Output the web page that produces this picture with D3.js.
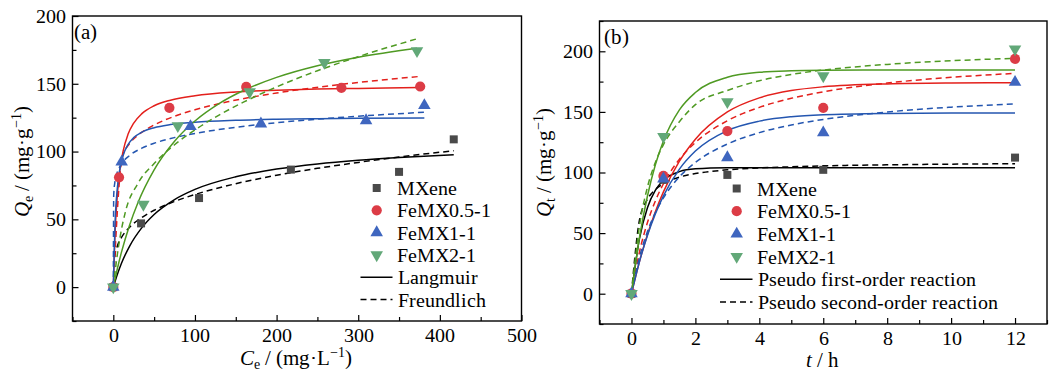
<!DOCTYPE html>
<html><head><meta charset="utf-8">
<script src="https://cdn.jsdelivr.net/npm/d3@7"></script>
<style>
@font-face{font-family:"RefSerif";font-style:normal;font-weight:400;
  src:local("Liberation Serif"),local("LiberationSerif"),local("LiberationSerif-Regular"),local("Liberation Serif Regular"),local("Tinos"),local("Times New Roman"),local("DejaVu Serif");}
@font-face{font-family:"RefSerif";font-style:italic;font-weight:400;
  src:local("Liberation Serif Italic"),local("LiberationSerif-Italic"),local("Tinos Italic"),local("Times New Roman Italic"),local("DejaVu Serif Italic");}
html,body{margin:0;padding:0;background:#fff;}
svg{display:block;}
svg text{font-family:"RefSerif","Liberation Serif","DejaVu Serif",serif;}
</style></head>
<body><svg id="c" width="1049" height="372"></svg>
<script>
// ---------- DATA ----------
const seriesNames = ["MXene","FeMX0.5-1","FeMX1-1","FeMX2-1"];
// (a) isotherm measured points
const isoMXeneC = [0, 34, 105, 217.5, 350, 417];
const isoMXeneQ = [0, 47, 65.7, 86.7, 85, 109];
const isoFe05C = [0, 7, 68.7, 162.8, 279.4, 375.9];
const isoFe05Q = [0, 81, 132.3, 147.7, 147, 148];
const isoFe1C = [0, 10.2, 94.5, 180.8, 309.6, 381];
const isoFe1Q = [0, 92.3, 118.5, 120.5, 122.9, 134];
const isoFe2C = [0, 36.8, 79, 167, 258.5, 372];
const isoFe2Q = [0, 61, 119, 144, 165.7, 174.3];
// (a) Langmuir fitted curves
const langMXeneC = [0,5,10,20,35,50,75,100,150,200,250,300,350,417];
const langMXeneQ = [0,9.5,17.6,30.3,43.9,53.6,64.6,72.1,81.4,87.1,90.9,93.6,95.6,97.7];
const langFe05C = [0,2,5,8,12,18,25,35,50,70,100,150,200,250,300,375];
const langFe05Q = [0,37.9,68.7,86.2,100.3,112.7,121,128,133.8,137.9,141.2,143.9,145.2,146.1,146.6,147.2];
const langFe1C = [0,2,5,8,12,18,25,35,50,70,100,150,200,250,300,381];
const langFe1Q = [0,45.2,73.5,87.1,97.1,105.1,110.3,114.3,117.6,119.9,121.7,123.1,123.8,124.2,124.5,124.8];
const langFe2C = [0,5,10,20,30,50,75,100,130,160,200,250,300,372];
const langFe2Q = [0,13.7,25.8,45.9,62.1,86.5,107.6,122.5,135.5,145.2,154.7,163.3,169.6,176.2];
// (a) Freundlich fitted curves
const freuMXeneC = [0,2,5,10,20,35,50,75,100,150,200,250,300,350,417];
const freuMXeneQ = [0,23.7,30.4,36.6,44.2,51.4,56.7,63.2,68.3,76.3,82.5,87.6,92,96,100.6];
const freuFe05C = [0,11,20,30,50,72,100,140,200,280,375];
const freuFe05Q = [0,96,106,112,119.6,125.4,130.8,136.7,143.2,149.6,155.4];
const freuFe1C = [0,0.5,2,5,10,20,35,50,75,100,150,200,250,300,381];
const freuFe1Q = [0,68.1,77.8,85,90.9,97.1,102.5,106.1,110.3,113.4,117.9,121.3,123.9,126.1,129];
const freuFe2C = [0,4,8,15,30,50,75,100,130,160,200,250,300,372];
const freuFe2Q = [0,20,36,56,76.4,91.2,105,116,127.1,136.6,147.7,159.6,170,183.2];
// (b) kinetics measured points
const kinT = [0,1,3,6,12];
const kinMXeneQ = [0,94,98,102.2,112.3];
const kinFe05Q = [0,97.2,134.2,153.4,193.7];
const kinFe1Q = [0,94.8,112.3,132.8,174.5];
const kinFe2Q = [0,129.6,158.3,179.7,201.9];
// (b) fitted curves
const fitT = [0,0.25,0.5,0.75,1,1.5,2,3,4,5,6,8,10,12];
const pfoMXeneQ = [0,45.4,71,85.5,93.6,100.7,103,103.9,104,104,104,104,104,104];
const pfoFe05Q = [0,26.5,48.9,67.9,84,109.3,127.5,150,161.6,167.6,170.7,173.1,173.8,174];
const pfoFe1Q = [0,26.4,48.1,66,80.7,102.8,117.7,134.6,142.4,146,147.6,148.7,149,149];
const pfoFe2Q = [0,46.2,80.6,106.6,126,151.7,166,178.6,182.7,183.9,184.3,184.5,184.5,184.5];
const psoMXeneQ = [0,60.6,77.9,86,90.8,96.2,99.1,102.2,103.8,104.7,105.5,106.3,106.9,107.2];
const psoFe05Q = [0,34.4,58.7,76.7,90.7,110.9,124.8,142.7,153.7,161.2,166.6,173.8,178.5,181.8];
const psoFe1Q = [0,30.1,51.3,67,79,96.4,108.3,123.5,132.9,139.2,143.8,149.9,153.9,156.6];
const psoFe2Q = [0,55.9,87.9,108.5,123,141.9,156,167.7,175.7,180.9,184.5,189.2,192.2,194.2];
// ticks
const aXTicks = [0,100,200,300,400,500];
const aXMinor = [-50,50,150,250,350,450];
const aYTicks = [0,50,100,150,200];
const aYMinor = [-25,25,75,125,175];
const bXTicks = [0,2,4,6,8,10,12];
const bXMinor = [-1,1,3,5,7,9,11,13];
const bYTicks = [0,50,100,150,200];
const bYMinor = [-25,25,75,125,175,225];

// ---------- STYLE ----------
const markerColors = ["#4a4a4a","#dc3c46","#3f66bf","#62a878"];
const lineColors = ["#000000","#e3201c","#2456b0","#4f9a23"];
const shapes = ["square","circle","tri","itri"];
const FL = 20;      // legend
const FS = 20.5;    // titles
const FT = 20;      // tick labels
const FSUB = 14;
const FONT = '"RefSerif","Liberation Serif","DejaVu Serif",serif';

const svg = d3.select("#c").attr("font-family", FONT);

function markerPath(shape){
  if(shape==="square") return d3.symbol(d3.symbolSquare, 64)();
  if(shape==="circle") return d3.symbol(d3.symbolCircle, 82)();
  return d3.symbol(d3.symbolTriangle, 68)();
}
function drawMarker(g, shape, x, y, color){
  g.append("path").attr("d", markerPath(shape))
    .attr("transform", `translate(${x},${y})` + (shape==="itri" ? " rotate(180)" : ""))
    .attr("fill", color);
}

function panel(opt){
  const {x0,x1,y0,y1,xd,yd} = opt;
  const x = d3.scaleLinear().domain(xd).range([x0,x1]);
  const y = d3.scaleLinear().domain(yd).range([y1,y0]);
  const g = svg.append("g");
  const cid = "clip"+opt.id;
  svg.append("clipPath").attr("id",cid).append("rect").attr("x",x0).attr("y",y0).attr("width",x1-x0).attr("height",y1-y0);
  const axB = d3.axisBottom(x).tickValues(opt.xt).tickSize(-6).tickPadding(6.5).tickFormat(d3.format("d"));
  const axBm = d3.axisBottom(x).tickValues(opt.xm).tickSize(-4).tickFormat("");
  const axL = d3.axisLeft(y).tickValues(opt.yt).tickSize(-6).tickPadding(7).tickFormat(d3.format("d"));
  const axLm = d3.axisLeft(y).tickValues(opt.ym).tickSize(-4).tickFormat("");
  [ [axB, `translate(0,${y1})`], [axBm, `translate(0,${y1})`], [axL, `translate(${x0},0)`], [axLm, `translate(${x0},0)`] ]
  .forEach(([ax,tr])=>{
    const a = g.append("g").attr("transform",tr).call(ax).attr("font-family", FONT).attr("font-size", FT);
    a.select(".domain").remove();
    a.selectAll("line").attr("stroke","#000").attr("stroke-width",1.2);
    a.selectAll("text").attr("font-family",FONT).attr("font-size",FT).attr("fill","#000");
  });
  g.append("rect").attr("x",x0).attr("y",y0).attr("width",x1-x0).attr("height",y1-y0)
    .attr("fill","none").attr("stroke","#000").attr("stroke-width",1.4);
  const cg = g.append("g").attr("clip-path",`url(#${cid})`);
  const line = d3.line().x(d=>x(d[0])).y(d=>y(d[1])).curve(d3.curveMonotoneX);
  opt.curves.forEach(c=>{
    cg.append("path").attr("d", line(c.xs.map((v,i)=>[v,c.ys[i]])))
      .attr("fill","none").attr("stroke",lineColors[c.s]).attr("stroke-width",1.5)
      .attr("stroke-dasharray", c.dash ? "6,4" : null);
  });
  const mg = g.append("g");
  opt.points.forEach(p=>{
    p.xs.forEach((v,i)=>drawMarker(mg, shapes[p.s], x(v), y(p.ys[i]), markerColors[p.s]));
  });
  return {x,y,g};
}

// ---------- PANEL A ----------
panel({id:"a", x0:72.5, x1:521.5, y0:16, y1:321, xd:[-50,500], yd:[-25,200],
  xt:aXTicks, xm:aXMinor, yt:aYTicks, ym:aYMinor,
  curves:[
    {s:0,xs:langMXeneC,ys:langMXeneQ},{s:0,xs:freuMXeneC,ys:freuMXeneQ,dash:true},
    {s:1,xs:langFe05C,ys:langFe05Q},{s:1,xs:freuFe05C,ys:freuFe05Q,dash:true},
    {s:2,xs:langFe1C,ys:langFe1Q},{s:2,xs:freuFe1C,ys:freuFe1Q,dash:true},
    {s:3,xs:langFe2C,ys:langFe2Q},{s:3,xs:freuFe2C,ys:freuFe2Q,dash:true}
  ],
  points:[
    {s:0,xs:isoMXeneC,ys:isoMXeneQ},{s:1,xs:isoFe05C,ys:isoFe05Q},
    {s:2,xs:isoFe1C,ys:isoFe1Q},{s:3,xs:isoFe2C,ys:isoFe2Q}
  ]});

// ---------- PANEL B ----------
panel({id:"b", x0:599.5, x1:1047, y0:21, y1:324, xd:[-1,13], yd:[-25,225],
  xt:bXTicks, xm:bXMinor, yt:bYTicks, ym:bYMinor,
  curves:[
    {s:0,xs:fitT,ys:pfoMXeneQ},{s:0,xs:fitT,ys:psoMXeneQ,dash:true},
    {s:1,xs:fitT,ys:pfoFe05Q},{s:1,xs:fitT,ys:psoFe05Q,dash:true},
    {s:2,xs:fitT,ys:pfoFe1Q},{s:2,xs:fitT,ys:psoFe1Q,dash:true},
    {s:3,xs:fitT,ys:pfoFe2Q},{s:3,xs:fitT,ys:psoFe2Q,dash:true}
  ],
  points:[
    {s:0,xs:kinT,ys:kinMXeneQ},{s:1,xs:kinT,ys:kinFe05Q},
    {s:2,xs:kinT,ys:kinFe1Q},{s:3,xs:kinT,ys:kinFe2Q}
  ]});

// ---------- LABELS ----------
function txt(x,y,s,anchor,fs){ return svg.append("text").attr("x",x).attr("y",y).attr("font-size",fs||FL)
  .attr("font-family",FONT).attr("text-anchor",anchor||"start").attr("fill","#000").text(s); }
txt(74,39,"(a)",null,21);
txt(604,44,"(b)",null,21);

{
  const t = svg.append("text").attr("x",296).attr("y",365).attr("font-size",FS).attr("font-family",FONT).attr("text-anchor","middle");
  t.append("tspan").attr("font-style","italic").text("C");
  t.append("tspan").attr("font-size",FSUB).attr("dy",4).text("e");
  t.append("tspan").attr("dy",-4).text(" / (mg·L");
  t.append("tspan").attr("font-size",FSUB).attr("dy",-8).text("−1");
  t.append("tspan").attr("dy",8).text(")");
}
{
  const t = svg.append("text").attr("x",822).attr("y",367).attr("font-size",FS).attr("font-family",FONT).attr("text-anchor","middle");
  t.append("tspan").attr("font-style","italic").text("t");
  t.append("tspan").text(" / h");
}
function yTitle(x, yc, sub){
  const t = svg.append("text").attr("transform",`translate(${x},${yc}) rotate(-90)`)
    .attr("font-size",FS).attr("font-family",FONT).attr("text-anchor","middle");
  t.append("tspan").attr("font-style","italic").text("Q");
  t.append("tspan").attr("font-size",FSUB).attr("dy",4).text(sub);
  t.append("tspan").attr("dy",-4).text(" / (mg·g");
  t.append("tspan").attr("font-size",FSUB).attr("dy",-8).text("−1");
  t.append("tspan").attr("dy",8).text(")");
}
yTitle(29,161,"e");
yTitle(551,162,"t");

// ---------- LEGENDS ----------
function legend(mx, tx, ys, lx0, lx1, lineLabels){
  seriesNames.forEach((n,i)=>{
    drawMarker(svg, shapes[i], mx, ys[i], markerColors[i]);
    txt(tx, ys[i]+7, n);
  });
  lineLabels.forEach((n,j)=>{
    const yy = ys[4+j];
    svg.append("line").attr("x1",lx0).attr("x2",lx1).attr("y1",yy).attr("y2",yy)
      .attr("stroke","#000").attr("stroke-width",1.5).attr("stroke-dasharray", j ? "6,4" : null);
    txt(tx+1.5, yy+7, n);
  });
}
legend(376.7, 396.5, [188,210.3,232.6,254.9,277.2,299.5], 360.5, 392.5, ["Langmuir","Freundlich"]);
legend(736.7, 756.5, [188.5,211.2,233.9,256.6,279.3,302], 720, 752.5, ["Pseudo first-order reaction","Pseudo second-order reaction"]);
</script></body></html>
